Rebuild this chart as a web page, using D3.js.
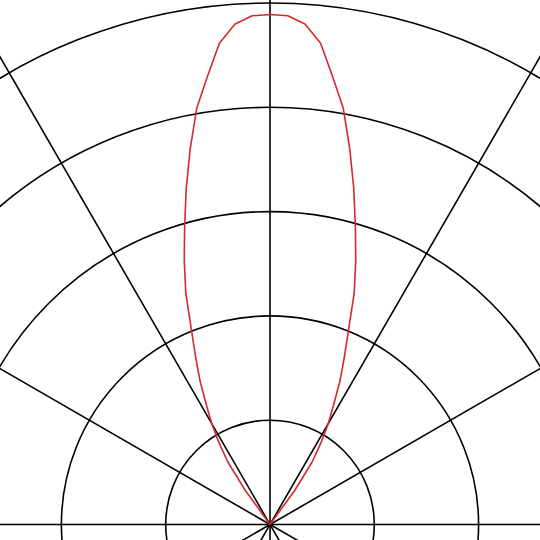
<!DOCTYPE html>
<html>
<head>
<meta charset="utf-8">
<script src="https://cdn.jsdelivr.net/npm/d3@7"></script>
<style>
html,body{margin:0;padding:0;background:#fff;overflow:hidden;}
svg{display:block;}
</style>
</head>
<body>
<svg id="chart" width="540" height="540"></svg>
<script>
// Grid rings (radial values) and spoke angles (degrees)
const ringValues = [1, 2, 3, 4, 5];
const spokeAngles = [0, 30, 60, 90, 120, 150];
// Pattern: angle from vertical (degrees) and radius value
const patternAngles = [-38,-36,-34,-32,-30,-28,-26,-24,-22,-20,-18,-16,-14,-12,-10,-8,-6,-4,-2,0,2,4,6,8,10,12,14,16,18,20,22,24,26,28,30,32,34,36,38];
const patternValues = [0,0.40,0.72,0.92,1.12,1.30,1.53,1.75,2.01,2.36,2.66,2.97,3.32,3.68,4.05,4.33,4.64,4.81,4.88,4.89,4.88,4.81,4.64,4.33,4.05,3.68,3.32,2.97,2.66,2.36,2.01,1.75,1.53,1.30,1.12,0.92,0.72,0.40,0];

const svg = d3.select("#chart");
const cx = 270, cy = 524.5;
const r = d3.scaleLinear().domain([0, 5]).range([0, 521.5]);
const g = svg.append("g").attr("transform", `translate(${cx},${cy})`);

g.selectAll("circle.ring").data(ringValues).enter().append("circle")
  .attr("class", "ring").attr("r", d => r(d))
  .attr("fill", "none").attr("stroke", "#000").attr("stroke-width", 1.6);

g.selectAll("line.spoke").data(spokeAngles).enter().append("line")
  .attr("class", "spoke")
  .attr("x1", d => -900 * Math.cos(d * Math.PI / 180))
  .attr("y1", d => 900 * Math.sin(d * Math.PI / 180))
  .attr("x2", d => 900 * Math.cos(d * Math.PI / 180))
  .attr("y2", d => -900 * Math.sin(d * Math.PI / 180))
  .attr("stroke", "#000").attr("stroke-width", 1.6);

const pts = patternAngles.map((a, i) => [a * Math.PI / 180, r(patternValues[i])]);
const line = d3.lineRadial().angle(d => d[0]).radius(d => d[1]);
g.append("path").attr("d", line(pts))
  .attr("fill", "none").attr("stroke", "#d42a2a").attr("stroke-width", 1.6)
  .attr("stroke-linejoin", "round");
</script>
</body>
</html>
